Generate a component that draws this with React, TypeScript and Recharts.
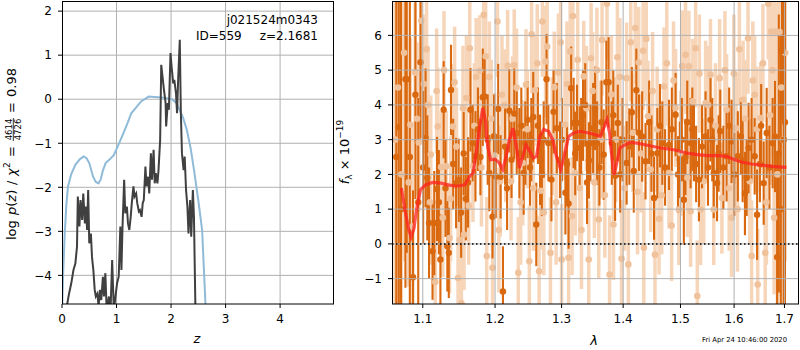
import React from "react";
import { ComposedChart, Line, Scatter, ErrorBar, XAxis, YAxis, ReferenceLine } from "recharts";

const FONT = "DejaVu Sans";

// ---- left panel: log p(z) ----
const zTicks = [0, 1, 2, 3, 4];
const lpTicks = [-4, -3, -2, -1, 0, 1, 2];

// prior / chi2 curve (light blue)
const priorCurve = [
  [0, -4.9], [0.02, -4.0], [0.05, -3.05], [0.08, -2.4], [0.11, -1.98], [0.17, -1.7],
  [0.245, -1.49], [0.33, -1.36], [0.4, -1.3], [0.45, -1.34], [0.5, -1.45], [0.57, -1.76],
  [0.62, -1.88], [0.67, -1.91], [0.71, -1.82], [0.75, -1.62], [0.8, -1.45], [0.88, -1.36],
  [0.95, -1.27], [1.03, -1.05], [1.1, -0.85], [1.2, -0.55], [1.27, -0.32], [1.35, -0.2],
  [1.45, -0.05], [1.59, 0.06], [1.7, 0.05], [1.83, 0.04], [2.02, 0.0], [2.1, -0.09],
  [2.14, -0.2], [2.22, -0.42], [2.29, -0.7], [2.36, -1.12], [2.42, -1.6], [2.5, -2.3],
  [2.57, -2.97], [2.6, -3.8], [2.64, -4.9],
];

// p(z) curve (dark)
const pzCurve = [
  [0.06, -4.9], [0.13, -4.41], [0.17, -4.18], [0.21, -3.88], [0.245, -3.73], [0.275, -3.35],
  [0.29, -2.21], [0.32, -2.89], [0.34, -2.29], [0.37, -2.74], [0.39, -2.14], [0.42, -2.82],
  [0.44, -2.44], [0.46, -2.97], [0.48, -2.06], [0.5, -3.27], [0.53, -3.05], [0.55, -3.58],
  [0.575, -3.88], [0.6, -4.33], [0.62, -4.48], [0.65, -4.41], [0.67, -4.7], [0.7, -4.33],
  [0.72, -4.56], [0.75, -4.03], [0.77, -4.48], [0.795, -3.95], [0.82, -4.8], [0.86, -4.48],
  [0.89, -4.8], [0.92, -3.65], [0.95, -4.8], [0.98, -4.48], [1.01, -4.18], [1.04, -4.03],
  [1.07, -2.89], [1.09, -3.88], [1.11, -2.89], [1.14, -1.83], [1.16, -2.59], [1.19, -2.44],
  [1.21, -2.82], [1.235, -2.97], [1.26, -2.67], [1.28, -2.36], [1.31, -1.98], [1.33, -2.21],
  [1.36, -2.14], [1.38, -2.36], [1.41, -2.55], [1.43, -2.52], [1.46, -2.67], [1.48, -2.36],
  [1.5, -2.29], [1.53, -1.53], [1.55, -1.98], [1.58, -1.76], [1.6, -2.14], [1.63, -1.23],
  [1.65, -1.83], [1.68, -1.15], [1.7, -1.91], [1.72, -1.68], [1.75, -1.91], [1.77, -1.61],
  [1.8, -0.92], [1.82, 0.78], [1.85, 0.44], [1.87, 0.21], [1.9, -0.09], [1.91, -0.62],
  [1.94, -0.09], [1.96, -0.24], [1.99, 1.05], [2.01, 0.74], [2.04, 0.36], [2.06, 0.44],
  [2.09, 0.14], [2.11, -0.32], [2.13, 0.44], [2.16, 1.35], [2.18, -0.32], [2.2, -1.23],
  [2.23, -1.61], [2.25, -1.3], [2.275, -2.06], [2.3, -2.44], [2.32, -3.05], [2.35, -2.29],
  [2.37, -3.12], [2.4, -2.06], [2.42, -2.67], [2.45, -5.0],
];

// ---- right panel: spectrum ----
const lamTicks = [1.1, 1.2, 1.3, 1.4, 1.5, 1.6, 1.7];
const fluxTicks = [-1, 0, 1, 2, 3, 4, 5, 6];
const F_MIN = -1.73;
const F_MAX = 6.99;

// [lambda, flux, err] - main grism points (dark)
const darkPts = [
  [1.0655, 2.5, 7], [1.0687, 3.36, 6], [1.0715, 1.0, 6], [1.0773, 4.74, 6], [1.079, 4.74, 5],
  [1.083, 2.5, 5], [1.0872, -0.96, 2.5], [1.0903, 4.29, 3], [1.094, 1.2, 3], [1.097, 5.23, 2.2],
  [1.1005, 2.2, 2.2], [1.1037, 3.05, 2], [1.106, 1.9, 1.8], [1.1083, 0.6, 1.6], [1.113, -0.21, 1.4],
  [1.1153, 0.6, 1.5], [1.119, 1.58, 1.5], [1.1215, 1.2, 1.5], [1.1236, -0.45, 1.3], [1.128, 3.86, 1.4],
  [1.1305, 1.6, 1.4], [1.133, -0.07, 1.3], [1.135, -0.26, 1.3], [1.138, 4.43, 1.3], [1.141, 2.3, 1.3],
  [1.145, 1.75, 1.3], [1.1486, 1.83, 1.2], [1.152, 0.9, 1.3], [1.1555, 2.6, 1.2], [1.1585, 1.3, 1.2],
  [1.1616, 1.77, 1.3], [1.165, 3.86, 1.2], [1.168, 2.9, 1.1], [1.172, 2.52, 1.3], [1.1755, 3.3, 1.2],
  [1.179, 2.5, 1.1], [1.1824, 4.22, 1.4], [1.185, 4.24, 1.2], [1.1894, 3.0, 1.3], [1.1917, 2.04, 1.1],
  [1.1963, 0.78, 1.2], [1.1985, 3.1, 1.2], [1.201, 1.94, 1.2], [1.2045, 3.88, 1.3], [1.208, 1.93, 1.2],
  [1.2114, -1.37, 1.3], [1.2145, 2.8, 1.1], [1.2175, 1.6, 1.2], [1.2208, 3.83, 1.2], [1.224, 2.42, 1.1],
  [1.228, 3.75, 1.3], [1.2317, 3.19, 1.2], [1.2356, 2.61, 1.3], [1.2385, 3.4, 1.1], [1.242, 2.04, 1.2],
  [1.2445, 2.9, 1.2], [1.248, 3.57, 1.1], [1.2515, 2.2, 1.1], [1.2535, 3.0, 1.2], [1.2564, 3.65, 1.3],
  [1.261, 0.56, 1.2], [1.2635, 3.4, 1.1], [1.2668, 2.42, 1.3], [1.2695, 2.0, 1.2], [1.2723, 3.0, 1.1],
  [1.2767, 4.74, 1.3], [1.2795, 2.9, 1.1], [1.2842, 1.85, 1.2], [1.2875, 3.8, 1.2], [1.2926, 3.33, 1.3],
  [1.2975, 2.42, 1.1], [1.3005, 3.0, 1.2], [1.306, 1.47, 1.2], [1.3085, 2.3, 1.1], [1.311, 1.16, 1.3],
  [1.3151, 4.48, 1.2], [1.319, 3.48, 1.3], [1.3215, 2.6, 1.2], [1.3243, 3.48, 1.1], [1.3286, 2.76, 1.2],
  [1.331, 3.1, 1.1], [1.334, 3.69, 1.3], [1.3375, 4.0, 1.2], [1.3405, 1.77, 1.2], [1.3435, 2.4, 1.1],
  [1.346, 2.9, 1.1], [1.3503, 3.33, 1.3], [1.3535, 3.9, 1.2], [1.3568, 2.9, 1.2], [1.3605, 2.2, 1.1],
  [1.364, 3.5, 1.2], [1.3676, 2.57, 1.3], [1.372, 4.65, 1.2], [1.3757, 4.65, 1.3], [1.381, 2.9, 1.2],
  [1.3835, 3.7, 1.3], [1.3865, 1.96, 1.3], [1.391, 3.48, 1.1], [1.395, 2.0, 1.1], [1.399, 3.0, 1.2],
  [1.4059, 2.33, 1.2], [1.4105, 2.8, 1.1], [1.4147, 3.79, 1.3], [1.418, 2.1, 1.2], [1.4224, 4.42, 1.2],
  [1.427, 3.2, 1.1], [1.4324, 3.09, 1.3], [1.4382, 2.38, 1.1], [1.4445, 3.5, 1.2], [1.4485, 2.6, 1.1],
  [1.453, 1.32, 1.2], [1.4588, 2.61, 1.3], [1.4635, 3.4, 1.2], [1.4676, 2.9, 1.2], [1.4725, 2.2, 1.1],
  [1.4794, 2.85, 1.3], [1.4845, 3.3, 1.2], [1.4912, 3.72, 1.2], [1.4955, 2.0, 1.1], [1.4988, 2.42, 1.1],
  [1.5025, 3.0, 1.2], [1.5061, 1.27, 1.3], [1.509, 2.5, 1.1], [1.5123, 3.5, 1.2], [1.5184, 2.9, 1.3],
  [1.5215, 3.3, 1.2], [1.5245, 2.9, 1.1], [1.5285, 2.3, 1.1], [1.5337, 1.85, 1.2], [1.5395, 2.8, 1.2],
  [1.546, 3.09, 1.3], [1.5505, 2.2, 1.1], [1.5552, 3.57, 1.2], [1.5585, 3.0, 1.2], [1.5613, 2.04, 1.3],
  [1.5675, 1.75, 1.1], [1.5705, 2.6, 1.1], [1.5736, 3.24, 1.2], [1.5795, 2.2, 1.2], [1.5856, 2.52, 1.3],
  [1.5905, 3.4, 1.1], [1.5951, 2.95, 1.2], [1.6005, 2.0, 1.2], [1.6072, 2.52, 1.3], [1.613, 3.1, 1.1],
  [1.6165, 2.4, 1.2], [1.621, 1.45, 1.2], [1.6245, 1.9, 1.1], [1.6281, 2.76, 1.3], [1.634, 3.0, 1.2],
  [1.6401, 2.52, 1.1], [1.6449, 0.84, 1.3], [1.6505, 2.3, 1.1], [1.653, 3.4, 1.2], [1.658, 1.75, 1.2],
  [1.664, 3.19, 1.3], [1.6695, 2.2, 1.2], [1.676, 2.9, 1.3], [1.6808, 3.09, 1.6], [1.685, -0.38, 3],
  [1.6885, 2.6, 4], [1.6925, 1.0, 5], [1.695, 5.56, 2], [1.6985, 3.0, 6], [1.701, 3.5, 6],
];

// [lambda, flux, err] - second set (faint)
const faintPts = [
  [1.064, 3.0, 7], [1.0675, 4.5, 7], [1.072, 2.0, 7], [1.0755, 5.5, 6], [1.0816, 1.77, 3],
  [1.0837, 3.43, 2.5], [1.0865, 0.5, 3], [1.09, 4.93, 2], [1.0925, 3.6, 2.2], [1.0948, 2.92, 2],
  [1.098, 6.42, 2], [1.1015, 4.6, 2], [1.105, 5.6, 1.8], [1.107, 4.0, 1.7], [1.1095, 1.2, 1.8],
  [1.1106, 2.57, 1.7], [1.1167, -1.1, 1.6], [1.1185, 4.4, 1.8], [1.12, 3.38, 1.7], [1.1245, 2.21, 1.6],
  [1.1268, 0.75, 1.7], [1.1285, 5.0, 1.7], [1.1315, 2.23, 1.6], [1.136, 0.17, 1.6], [1.1375, 1.3, 1.8],
  [1.1407, 3.38, 1.8], [1.143, 4.65, 1.6], [1.1455, 2.8, 1.7], [1.1477, -0.98, 1.6], [1.15, 0.12, 1.7],
  [1.1523, -1.7, 1.6], [1.1545, 3.9, 1.8], [1.156, 0.27, 1.6], [1.1593, 4.2, 1.8], [1.1625, 1.1, 1.7],
  [1.164, 5.63, 1.6], [1.1685, 2.23, 1.6], [1.1705, 3.4, 1.8], [1.173, 4.8, 1.7], [1.178, 4.98, 1.6],
  [1.1805, 2.2, 1.7], [1.1838, 6.59, 1.6], [1.1865, 5.4, 1.8], [1.188, -0.35, 1.7], [1.1917, 4.8, 1.6],
  [1.1945, 3.6, 1.7], [1.1963, -0.69, 1.6], [1.1995, 2.54, 1.8], [1.2035, 6.4, 1.6], [1.2055, 0.4, 1.8],
  [1.2074, 1.8, 1.6], [1.21, 4.29, 1.7], [1.2134, 4.0, 1.6], [1.2155, 2.9, 1.7], [1.2183, 5.13, 1.6],
  [1.2233, 1.8, 1.7], [1.2255, 3.6, 1.8], [1.228, 5.15, 1.6], [1.2315, 4.5, 1.7], [1.234, -0.83, 1.6],
  [1.2375, 1.2, 1.8], [1.2406, 2.33, 1.8], [1.2455, 4.58, 1.6], [1.2475, 3.3, 1.7], [1.2505, -0.5, 1.6],
  [1.254, 6.03, 1.7], [1.2565, 1.6, 1.8], [1.259, 4.42, 1.6], [1.2625, 5.2, 1.7], [1.2653, -0.79, 1.6],
  [1.2678, 1.53, 1.7], [1.2703, 6.4, 1.6], [1.2725, 0.9, 1.8], [1.2752, 5.25, 1.6], [1.2777, 5.68, 1.7],
  [1.2827, -0.26, 1.6], [1.2855, 3.1, 1.7], [1.2886, 4.51, 1.6], [1.2915, 1.2, 1.8], [1.295, 4.93, 1.7],
  [1.2985, 5.8, 1.7], [1.3, -0.45, 1.6], [1.3054, 3.43, 1.6], [1.3085, 4.6, 1.8], [1.311, -0.4, 1.7],
  [1.3135, 5.54, 1.6], [1.3165, 0.8, 1.7], [1.3178, 6.56, 1.6], [1.3216, 2.04, 1.8], [1.3255, 5.3, 1.8],
  [1.3286, 1.61, 1.6], [1.3315, 0.4, 1.7], [1.3351, 4.82, 1.6], [1.3395, 3.9, 1.8], [1.3432, -0.45, 1.7],
  [1.347, 5.34, 1.6], [1.3495, 4.4, 1.7], [1.3524, 1.77, 1.6], [1.3565, 5.0, 1.8], [1.3595, 0.7, 1.7],
  [1.3625, 3.0, 1.7], [1.3649, 5.87, 1.6], [1.3695, 1.4, 1.8], [1.373, 6.91, 1.6], [1.3773, -0.88, 1.7],
  [1.3805, 4.3, 1.7], [1.3838, 0.56, 1.6], [1.3875, 3.0, 1.8], [1.3903, 5.37, 1.6], [1.3945, 4.8, 1.7],
  [1.3973, -0.43, 1.7], [1.4025, 1.6, 1.8], [1.4059, 4.77, 1.6], [1.4088, -0.59, 1.6], [1.4129, 5.8, 1.7],
  [1.4165, 3.2, 1.7], [1.4206, 6.21, 1.6], [1.4245, 1.5, 1.8], [1.4265, 5.22, 1.6], [1.4305, 2.6, 1.7],
  [1.4341, 5.56, 1.7], [1.4353, -0.11, 1.6], [1.4395, 5.9, 1.8], [1.4424, 3.67, 1.6], [1.4471, 2.14, 1.8],
  [1.4505, 4.4, 1.7], [1.4547, -0.31, 1.6], [1.4585, 3.3, 1.8], [1.4618, 0.72, 1.6], [1.4665, 1.4, 1.7],
  [1.4706, 4.53, 1.7], [1.4755, 5.2, 1.8], [1.4794, 2.04, 1.6], [1.4841, 0.53, 1.6], [1.4875, 4.7, 1.7],
  [1.4912, 3.91, 1.7], [1.4971, 0.99, 1.6], [1.5005, 2.6, 1.8], [1.5031, 5.12, 1.6], [1.5092, 5.44, 1.7],
  [1.5125, 1.9, 1.7], [1.5153, 5.11, 1.6], [1.5184, 0.94, 1.6], [1.5225, 4.1, 1.8], [1.5276, 5.63, 1.7],
  [1.5307, -1.5, 1.6], [1.5345, 4.9, 1.7], [1.5368, 0.99, 1.6], [1.5425, 1.8, 1.8], [1.546, 4.05, 1.8],
  [1.5505, 4.0, 1.7], [1.5552, 4.87, 1.6], [1.5613, 0.99, 1.6], [1.5645, 3.4, 1.8], [1.5724, 4.77, 1.7],
  [1.5767, 1.32, 1.6], [1.5825, 5.0, 1.7], [1.5856, 3.86, 1.6], [1.5905, 1.6, 1.8], [1.5951, 0.75, 1.7],
  [1.5995, 4.9, 1.7], [1.6042, 3.33, 1.6], [1.6065, 1.0, 1.8], [1.6102, 5.6, 1.6], [1.6174, 4.15, 1.7],
  [1.6215, 3.6, 1.7], [1.627, 5.92, 1.6], [1.6305, 1.8, 1.8], [1.6341, -0.35, 1.6], [1.6365, 4.7, 1.7],
  [1.6401, 4.29, 1.7], [1.6445, 3.3, 1.8], [1.6461, -1.17, 1.6], [1.652, 3.62, 1.6], [1.6565, 5.2, 1.7],
  [1.6611, -0.26, 1.7], [1.6635, 1.2, 1.8], [1.6671, 6.91, 1.6], [1.6705, 3.7, 2], [1.673, 6.11, 1.9],
  [1.6755, 5.0, 2.5], [1.679, 0.75, 2.2], [1.682, 6.11, 2.5], [1.6855, 2.0, 5], [1.69, 6.1, 4],
  [1.6935, 4.5, 6], [1.698, 3.0, 6], [1.7015, 5.5, 6],
];

// best-fit model (red)
const modelCurve = [
  [1.072, 1.61], [1.0773, 0.89], [1.0816, 0.41], [1.0847, 0.2], [1.088, 0.41], [1.0925, 1.08],
  [1.097, 1.56], [1.1037, 1.7], [1.113, 1.77], [1.1245, 1.75], [1.134, 1.7], [1.145, 1.66],
  [1.157, 1.7], [1.164, 1.94], [1.1685, 2.04], [1.173, 2.61], [1.178, 3.38], [1.1824, 3.91],
  [1.186, 3.57], [1.1894, 2.81], [1.1935, 2.42], [1.2, 2.44], [1.206, 2.33], [1.211, 2.14],
  [1.216, 2.52], [1.221, 3.0], [1.226, 3.33], [1.231, 2.81], [1.2356, 2.18], [1.2406, 2.52],
  [1.2455, 2.85], [1.25, 2.71], [1.2564, 2.47], [1.2614, 2.52], [1.2663, 3.09], [1.2723, 3.29],
  [1.2797, 3.24], [1.2861, 3.0], [1.292, 2.52], [1.2985, 2.14], [1.3038, 2.52], [1.311, 3.09],
  [1.3189, 3.19], [1.3297, 3.24], [1.3432, 3.19], [1.354, 3.14], [1.3622, 3.09], [1.3676, 3.33],
  [1.373, 3.57], [1.3773, 3.19], [1.381, 2.52], [1.3849, 1.99], [1.3892, 2.33], [1.3946, 2.76],
  [1.4029, 2.85], [1.4118, 2.92], [1.4235, 2.9], [1.4412, 2.84], [1.4647, 2.76], [1.4882, 2.71],
  [1.5123, 2.61], [1.5307, 2.57], [1.5491, 2.54], [1.5675, 2.54], [1.5856, 2.52], [1.6012, 2.42],
  [1.6162, 2.35], [1.6341, 2.3], [1.658, 2.26], [1.676, 2.23], [1.6946, 2.21], [1.704, 2.2],
];

const DARK = "#d9680f";
const FAINT_BAR = "#f6d5b9";
const FAINT_DOT = "#f0c29c";
const GRID = "#b0b0b0";

const minus = (v: number) => (v < 0 ? "\u2212" + Math.abs(v) : String(v));
const tickStyle = { fill: "#000", fontSize: 12, fontFamily: FONT };

// keep the error bars inside the axes box, like matplotlib's clipping
const toPts = (rows: number[][]) =>
  rows.map(([lam, f, e]) => ({ lam, f, err: [Math.min(e, f - F_MIN), Math.min(e, F_MAX - f)] }));

function LeftPanel() {
  const prior = priorCurve.map(([z, lp]) => ({ z, lp }));
  const pz = pzCurve.map(([z, lp]) => ({ z, lp }));
  return (
    <ComposedChart width={340} height={350} margin={{ top: 1, right: 7, bottom: 16, left: 22 }}>
      <XAxis dataKey="z" type="number" domain={[0, 4.97]} ticks={zTicks} allowDataOverflow
        height={30} tickSize={4} tickMargin={6} axisLine={false}
        tickLine={{ stroke: "#000" }} tick={tickStyle} />
      <YAxis dataKey="lp" type="number" domain={[-4.65, 2.23]} ticks={lpTicks} allowDataOverflow
        width={40} tickSize={4} tickMargin={6} axisLine={false} tickFormatter={minus}
        tickLine={{ stroke: "#000" }} tick={tickStyle} />
      {zTicks.slice(1).map((t) => <ReferenceLine key={"x" + t} x={t} stroke={GRID} strokeWidth={1} />)}
      {lpTicks.map((t) => <ReferenceLine key={"y" + t} y={t} stroke={GRID} strokeWidth={1} />)}
      <Line data={prior} dataKey="lp" stroke="#8fbbd9" strokeWidth={2} dot={false} isAnimationActive={false} />
      <Line data={pz} dataKey="lp" stroke="#404040" strokeWidth={2} dot={false} isAnimationActive={false} />
    </ComposedChart>
  );
}

const rightMargin = { top: 1, right: 1, bottom: 16, left: 12 };

function RightPanel() {
  const dark = toPts(darkPts);
  const faint = toPts(faintPts);
  return (
    <ComposedChart width={460} height={350} margin={rightMargin}>
      <XAxis dataKey="lam" type="number" scale="log" domain={[1.06, 1.73]} ticks={lamTicks} allowDataOverflow
        height={30} tickSize={4} tickMargin={6} axisLine={false} tickFormatter={(v: number) => v.toFixed(1)}
        tickLine={{ stroke: "#000" }} tick={tickStyle} />
      <YAxis dataKey="f" type="number" domain={[F_MIN, F_MAX]} ticks={fluxTicks} allowDataOverflow
        width={40} tickSize={4} tickMargin={6} axisLine={false} tickFormatter={minus}
        tickLine={{ stroke: "#000" }} tick={tickStyle} />
      <Scatter data={faint} isAnimationActive={false}
        shape={(p: any) => <circle cx={p.cx} cy={p.cy} r={3.3} fill={FAINT_DOT} />}>
        <ErrorBar dataKey="err" direction="y" width={0} stroke={FAINT_BAR} strokeWidth={3.5} />
      </Scatter>
      <Scatter data={dark} isAnimationActive={false}
        shape={(p: any) => <circle cx={p.cx} cy={p.cy} r={3.2} fill={DARK} />}>
        <ErrorBar dataKey="err" direction="y" width={0} stroke={DARK} strokeWidth={2.1} />
      </Scatter>
    </ComposedChart>
  );
}

// same axes box, drawn on top: grid, model and zero line sit above the points
function RightOverlay() {
  const model = modelCurve.map(([lam, f]) => ({ lam, f }));
  return (
    <ComposedChart width={460} height={350} margin={rightMargin}>
      <XAxis dataKey="lam" type="number" scale="log" domain={[1.06, 1.73]} ticks={lamTicks} allowDataOverflow
        height={30} axisLine={false} tickLine={false} tick={false} />
      <YAxis dataKey="f" type="number" domain={[F_MIN, F_MAX]} ticks={fluxTicks} allowDataOverflow
        width={40} axisLine={false} tickLine={false} tick={false} />
      {lamTicks.map((t) => <ReferenceLine key={"x" + t} x={t} stroke={GRID} strokeWidth={1} />)}
      {fluxTicks.map((t) => <ReferenceLine key={"y" + t} y={t} stroke={GRID} strokeWidth={1} />)}
      <Line data={model} dataKey="f" stroke="#ff2020" strokeOpacity={0.75} strokeWidth={3.2}
        dot={false} isAnimationActive={false} />
      <ReferenceLine y={0} stroke="#000" strokeWidth={1.5} strokeDasharray="1.5 2.5" />
    </ComposedChart>
  );
}

function Labels() {
  return (
    <svg width={800} height={350} style={{ position: "absolute", left: 0, top: 0, pointerEvents: "none" }}
      fontFamily={FONT}>
      <rect x={62.5} y={1.5} width={271} height={302.5} fill="none" stroke="#000" strokeWidth={1} />
      <rect x={392.5} y={1.5} width={406} height={302.5} fill="none" stroke="#000" strokeWidth={1} />
      <text x={318} y={24} fontSize={12} textAnchor="end">j021524m0343</text>
      <text x={196} y={40} fontSize={12}>ID=559</text>
      <text x={318} y={40} fontSize={12} textAnchor="end">z=2.1681</text>
      <text x={197} y={343} fontSize={13} fontStyle="italic" textAnchor="middle">z</text>
      <text x={594} y={345} fontSize={13} fontStyle="italic" textAnchor="middle">λ</text>
      <text x={787} y={341.5} fontSize={6.8} textAnchor="end">Fri Apr 24 10:46:00 2020</text>
      <g transform="translate(15.5,240) rotate(-90)" fontSize={13}>
        <text x={0} y={0}>log</text>
        <text x={25} y={0}><tspan fontStyle="italic">p</tspan>(<tspan fontStyle="italic">z</tspan>)</text>
        <text x={55} y={0}>/</text>
        <text x={64} y={0} fontStyle="italic">χ</text>
        <text x={72} y={-5.5} fontSize={9}>2</text>
        <text x={83} y={0}>=</text>
        <text x={110.5} y={-3.6} fontSize={8.5} textAnchor="middle">4614</text>
        <line x1={99} x2={122} y1={-2.2} y2={-2.2} stroke="#000" strokeWidth={0.8} />
        <text x={110.5} y={5.6} fontSize={8.5} textAnchor="middle">4726</text>
        <text x={127} y={0}>=</text>
        <text x={143} y={0}>0.98</text>
      </g>
      <g transform="translate(348.5,152) rotate(-90)" fontSize={13}>
        <text x={0} y={0} textAnchor="middle">
          <tspan fontStyle="italic">f</tspan><tspan fontSize={9} dy={3}>λ</tspan>
          <tspan dy={-3}> × 10</tspan><tspan fontSize={9} dy={-5.5}>−19</tspan>
        </text>
      </g>
    </svg>
  );
}

export default function App() {
  return (
    <div style={{ position: "fixed", left: 0, top: 0, width: 800, height: 350, background: "#fff" }}>
      <div style={{ position: "absolute", left: 0, top: 0 }}>
        <LeftPanel />
      </div>
      <div style={{ position: "absolute", left: 340, top: 0 }}>
        <RightPanel />
      </div>
      <div style={{ position: "absolute", left: 340, top: 0 }}>
        <RightOverlay />
      </div>
      <Labels />
    </div>
  );
}
